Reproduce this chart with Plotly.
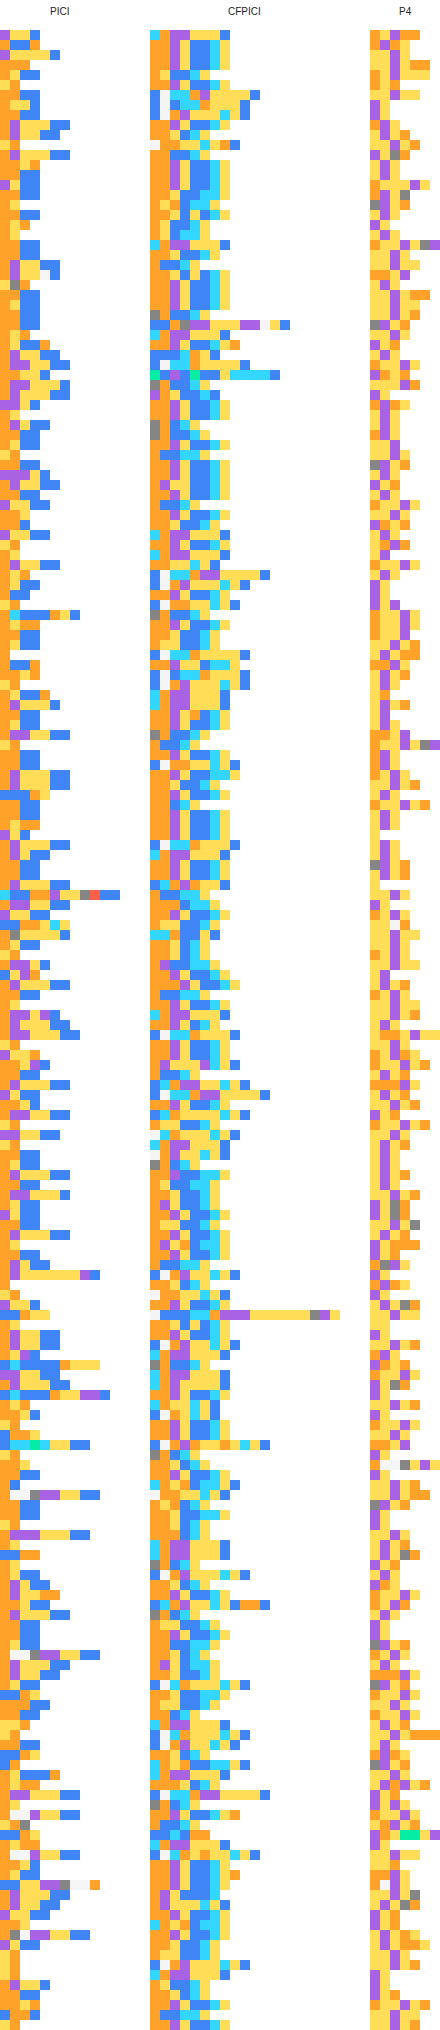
import plotly.graph_objects as go

# O orange, Y yellow, P purple, B blue, C cyan, G grey, W light grey, T teal, R red
PICI_rows = [
 "PYYB","OBBO","PYYYYB","OOO","OYBB","YO","OOBB","OYYB","OOBB","OPYYYBB",
 "OPYYBB","YO","OPYYYBB","OOYO","OOBB","PYBB","OOBB","OY","OOBB","OYO",
 "OY","OOBB","OOBB","OPYYBB","OPYYWB","YGO","OOBB","OYBB","OOBB","OOBB",
 "OYO","OYBBO","OPYYBB","OPPYYBB","OOYYB","OPPYYYB","OPYYYBB","PPYB","OY","OPYBB",
 "OOBB","OYBB","YO","OOBB","PPPYB","OPYYBB","OOBB","PYYBB","OOY","OOB",
 "PYYBB","YO","OY","OPYYBB","OYO","OYBB","OBB","YO","OCBBBOYB","OYOO",
 "OOBB","OYBB","O","OBBO","OOYO","YO","OYBBO","OPYYYB","OOBB","OYBB",
 "OPPYYBB","YO","OOBB","OOBB","OPYYYBB","OPYYYBB","BBBOY","OOBB","OOBB","OYOO",
 "PYB","OPYYYBB","OPYBB","OOBB","OOBB","OPYYYBB","CBBOOPYYGRBB","OPPYYBB","PYYBB","BBOOYCY",
 "OGYYYYB","OYBB","YO","OPPYB","BYPO","OPYYYBB","OOBB","OY","OPPYPB","OPYYYBB",
 "OPPYYYBB","YO","PYYO","OOYPB","OOBB","OPYYYBB","PYBB","OOYB","OPPYYBB","YO",
 "PPYYBB","YO","OOBB","OYBB","OPYYYBB","OOBB","OPPYYYB","OYBB","PYBB","OOBB",
 "OPYYYBB","OY","OOBB","OPYBB","OPYYYYYYPB","O","YO","PYYB","BBOYY","OY",
 "OPYYBB","OPYYBB","OYPB","BCBBBBOYYY","PPYYBB","OPYYYBB","BCBBBOYYPPB","OYO","OOYB","YO",
 "BOOY","BCCTCYYBB","YO","OOY","OOBB","OB","OWWGPPYYBB","OOBB","OOBB","YO",
 "OPPPYYYBB","OY","BBOO","OY","OYBB","OPYBB","OPYYOO","OOYBB","OPYYYBB","OOBB",
 "OOBB","OYBB","OWWGPPYYBB","OPYYYBB","OPYYBB","OYBB","BBOY","OOOBB","OOBB","YYO",
 "YO","OOBB","BBOY","BO","OYBBBO","OYOO","OPPYYYBB","OY","OWWPYYBB","YOG",
 "BBOY","OYOO","OWWPYYBB","OOYB","OYBB","BBYYPPGWWO","OPYYYBB","OPYYBB","PYYBB","OOY",
 "OGWPPYYBB","PYBB","YO","YO","YO","OPYYB","OOBB","OOYO","BOOB","YO",
]

CFPICI_rows = [
 "COPPYYYB","OOPYBBCY","OOPYBBCY","OOPYBBCY","OYBBCY","OOPYBBCY","BWCCOPYYYYB","BWBCCOYYYB","BWOPYYYCYB","OOPYBBCY",
 "OOYBCY","WOOYYCYOB","OOBBCY","OOPYBBCY","OOPYBBCY","OOPYBBCY","OOYBBCCY","OYOBCCY","OOYBYBCY","OYBBCY",
 "OYBCCY","COPPYYYB","OOYBBCY","OBBCY","OOYBYBCY","OOPYBBCY","OOPYBBCY","OOPYBBCY","GOBBCY","BBOGPPYYYPPWYB",
 "COPPYYYB","OOPYBBCYO","BBBCOYB","BWCCOYYYYB","TBPBTBBYCCCCB","GOBBCY","POYBBCB","OOPYBBCY","OOPYBBCY","GOBCY",
 "GOBBCY","OOPYBBCY","OBBCCY","OOPYBBCY","OOPYBBCY","OPYYBBCY","OOPYBBCY","OBBCY","OOPYBBCY","OOYBBCY",
 "COPPYYYB","OOPYBBCY","COPPYYYB","OOYYCYB","BWCCOPPYYYYB","BWOPYYYCYB","OOPYBBCY","BWOOYYCYB","GOBBCY","OOPYBBCY",
 "OOYBBCY","OYYBBCY","BWCCOYYYYB","OOPYYBCCY","BWBCCOYYYB","BWOPYYYCYB","COPPYYYB","COPPYYYB","OOPYOBCY","OOPYBBCY",
 "GOBBCY","OBBCY","OOPYBBCY","BWOOYYCYB","OOPYBBCCY","OOYBBCY","OOPYBBCY","OOBCY","OOPYBBCY","OOPYBBCY",
 "OOPYBBCY","BWCCOYYYB","COPPYYYB","OOPYBBCY","OOPYBBCY","BCOPOYYB","OBBCCY","OOOBCCY","OOPYBBCY","OYYBBCY",
 "CCOBBYB","OOYBCY","OOYBCY","OPBBCCY","OOPYBBCY","OOOPYBBCY","OBBCCY","OOPYBBCY","COPPYYYB","OOPYBCY",
 "BWCCOYYYB","OOPYBBCY","OOPYBBCY","OPYYYPCYB","OBBCY","BCOPPYYCYB","BWCCOPPYYYYB","OOPYBBCY","BCOYYYYCYB","OYYBBCY",
 "WCOYYYCYB","COPPYYYB","WOPYYCYB","GOBCY","OOPBBCCY","OYBBCCY","OOYBBCY","OPYBBCY","OOPYBBCY","OYYBBCY",
 "OOPYBBCY","OPYOBCCY","OOPYBBCY","OBBCCY","BWOPYYCYB","OOYBCY","WOOYYCYB","OOPYBBCY","WBBBCCOPPPYYYYYYGPY","OOYBYBCY",
 "OOPYBBCY","BWOPYYCYB","COPPYYYB","GOBBCY","COPPYYYB","COPYYYYB","OOPYBBCY","COYYCYB","BWOYCYB","OOPYBBCY",
 "OOPYBBCY","BWOPOYYOYCYB","GOBCY","OOYBCY","OOPYBBCY","COYOBCCYB","WOOYYCYB","OYOBCY","OOYBBCCY","OOYBCY",
 "OOOBCY","COPPYYYB","COPPYYYB","GOBCY","BWOPYYYCYB","OOYBCY","OOPYBBCY","BCOPYYCYBOOB","GOBCY","OYYBBCY",
 "OOPYBBCY","OOBBCCY","OOYBCY","OPYBCCY","OOYBBCY","BWCOYYYCYB","OOYBBCCY","OYYBBCY","OOBCY","COPPYYYB",
 "BWCOYYYCYB","BWOPYYCYB","OOYBCY","COYOBBCCYB","COPPYYYB","OOOYBCY","BWCCOPPYYYYB","GOBCY","OOPYBBCYO","OBBCY",
 "BBCBOO","COPPYYYB","BWCOYOYYCYB","OOPYBBCY","OOPYBBCYO","OOPYBBCY","OPYBBBC","OPYYYCYB","OOPYBBCY","COYOBCCY",
 "OOPYBBCY","OOYBBCY","OYYBBCY","BWOPYYYCYB","COPPYYYB","OYBBCY","OOYBCY","OOPYBBCY","OBBCCY","OOPYBBCY",
]

P4_rows = [
 "OYPOO","OPOY","YYPY","YYPYOO","OYPYYY","OYO","YYPYY","PY","PY","OPY",
 "YPYO","YYPYO","PYGO","YPY","YPY","OYYYPY","OPYG","GPYO","YPY","PY",
 "YPY","OYYPYGP","YYPY","YYPYY","OOYP","YPY","YYPYOO","YYPYY","YYPYO","GPYO",
 "YYPY","PYO","YPY","OYYPY","POYO","YYYPO","PY","OPOY","YPY","YPY",
 "OPY","YYP","YYPY","GPYO","YPY","PYO","YPY","OYYPY","YYPY","POYO",
 "YPY","YOPO","YP","OYYPY","YPY","PY","PY","PYP","OYYPY","OYYPY",
 "OYYP","YYPYO","YPYOO","OOPY","YPYO","YPY","YO","YPYO","YP","YPY",
 "OOYP","OYYPYGP","OPY","OPY","OYPY","YYPYO","YPY","OYYPYO","YPY","YPY",
 "Y","YPY","YPY","GPYO","YPYO","Y","YYPY","PY","OYPY","YYWO",
 "YYPYY","YYPY","OYPY","YYPYY","YP","YPYO","OYPY","YYPYY","YYPYO","YPY",
 "YOOYPYY","YYPY","OYPOY","OYYPYO","YPYO","OOOPY","YPYO","YYPYO","PYO","OYYPYO",
 "YYPY","YPYO","YPY","YPY","YPYO","YPY","YYPYO","PYGO","PYGO","YYPYG",
 "YPYO","PYOOO","PYO","OGPY","PY","OPOY","PY","YPYGO","YYPYY","YY",
 "PY","YYPYO","OPY","POYO","OYYPY","PYGO","PY","YYPYO","PY","OYYPY",
 "YYPY","OOYP","PY","OWWGYPY","PY","YYPYO","YYPYOO","GPYO","PY","PY",
 "YYPY","YPYO","YPYGO","PYO","YPY","POY","OYYPY","OYPO","YPY","PY",
 "PY","GPYO","OYPY","YPY","OOOPY","GPYO","OYYPY","YYPY","OYYPY","YPYO",
 "YYPYOOO","YPY","OPOY","GPYO","YYPY","YPOPYO","PYO","PYPY","OYYPY","YOPYO",
 "POYTTYP","PY","YYPYY","YYO","OOPY","OWPY","YYPYG","YPYGO","PYO","PYO",
 "YPYOY","YPYOOY","YYPY","YYPYO","PY","PY","PYO","OYYPYO","YYPYY","YYPYO",
]

titles = ["PICI", "CFPICI", "P4"]
column_counts = [12, 19, 7]
codes = "OYPBCGWTR"
colors = ["#FFA229", "#FFDD57", "#A962E3", "#3F85F6", "#33D6FF",
          "#858585", "#F5F5F5", "#05EDA5", "#FF6148"]

W, H, top = 440, 2030, 30
x_pixels = [(0, 120), (150, 340), (370, 440)]
scale = []
for i, c in enumerate(colors):
    scale += [[i / len(colors), c], [(i + 1) / len(colors), c]]

fig = go.Figure()
for k, rows in enumerate([PICI_rows, CFPICI_rows, P4_rows]):
    n = column_counts[k]
    z = [[codes.index(ch) for ch in r] + [None] * (n - len(r)) for r in rows]
    suffix = "" if k == 0 else str(k + 1)
    fig.add_trace(go.Heatmap(z=z, x=list(range(n)), y=list(range(len(rows))),
                             colorscale=scale, zmin=-0.5, zmax=len(colors) - 0.5,
                             showscale=False, hoverongaps=False,
                             xaxis="x" + suffix, yaxis="y" + suffix))
    a, b = x_pixels[k]
    fig.layout["xaxis" + suffix] = dict(domain=[a / W, b / W], range=[-0.5, n - 0.5],
                                        visible=False, anchor="y" + suffix)
    fig.layout["yaxis" + suffix] = dict(domain=[0, 1 - top / H], range=[len(rows) - 0.5, -0.5],
                                        visible=False, anchor="x" + suffix)
    fig.add_annotation(text=titles[k], xref="paper", yref="paper", x=(a + b) / 2 / W, y=1 - 11 / H,
                       showarrow=False, xanchor="center", yanchor="middle",
                       font=dict(family="Liberation Sans, Arial, sans-serif", size=10, color="#222222"))

fig.update_layout(width=W, height=H, margin=dict(l=0, r=0, t=0, b=0),
                  paper_bgcolor="white", plot_bgcolor="white", showlegend=False)
fig.write_html("out.html", config={"displayModeBar": False},
               post_script="document.body.style.margin='0';")
